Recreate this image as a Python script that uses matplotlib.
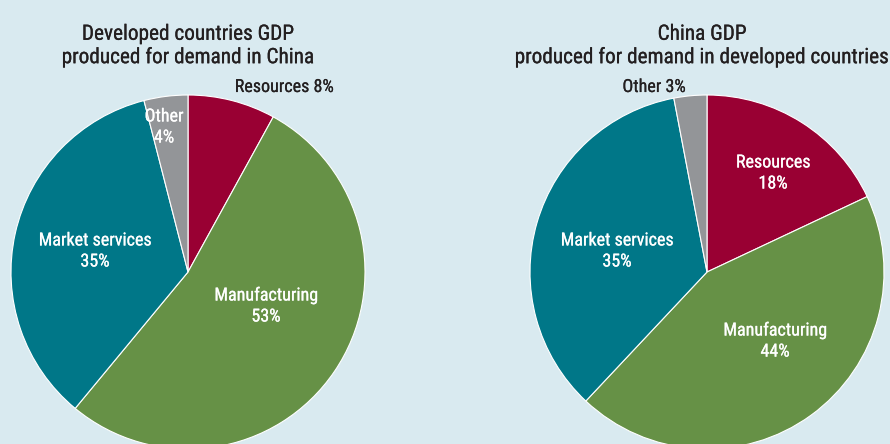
import matplotlib
matplotlib.use("Agg")
import matplotlib.pyplot as plt
from matplotlib import font_manager
from matplotlib import patheffects as pe
import os

# ---- data ----
categories = ["Resources", "Manufacturing", "Market services", "Other"]
left_values = [8, 53, 35, 4]
right_values = [18, 44, 35, 3]
left_title = "Developed countries GDP\nproduced for demand in China"
right_title = "China GDP\nproduced for demand in developed countries"

colors = ["#990033", "#669146", "#007788", "#939598"]
bg = "#d9eaf0"


def pick_font():
    files = [f.fname for f in font_manager.fontManager.ttflist]
    prefs = ["RobotoCondensed-Regular", "Roboto_Condensed-Regular", "LiberationSansNarrow-Regular",
             "DejaVuSansCondensed.ttf"]
    for p in prefs:
        for f in files:
            if p.lower() in os.path.basename(f).lower():
                return f
    for f in files:
        b = os.path.basename(f).lower()
        if ("condensed" in b or "narrow" in b) and "bold" not in b and "italic" not in b \
                and "oblique" not in b and "medium" not in b and "light" not in b:
            return f
    return None


ff = pick_font()
if ff:
    fp = font_manager.FontProperties(fname=ff)
else:
    fp = font_manager.FontProperties(family="DejaVu Sans")

W, H = 890, 444
fig = plt.figure(figsize=(W / 100, H / 100), dpi=100, facecolor=bg)

R = 177


def make_ax(cx, cy):
    ax = fig.add_axes([(cx - R) / W, (H - cy - R) / H, 2 * R / W, 2 * R / H])
    ax.set_facecolor("none")
    ax.axis("off")
    return ax


def pos(cx, cy, x, y):
    return ((x - cx) / R, (cy - y) / R)


def draw(ax, values):
    ax.pie(values, colors=colors, startangle=90, counterclock=False, radius=1,
           wedgeprops=dict(edgecolor="white", linewidth=0.8))
    ax.set_xlim(-1, 1)
    ax.set_ylim(-1, 1)
    ax.set_aspect("auto")


def fpsize(size):
    p = fp.copy()
    p.set_size(size)
    return p


LS = 13
white_kw = dict(ha="center", va="center", linespacing=1.22, color="white",
                path_effects=[pe.withStroke(linewidth=0.15, foreground="white")])
dark_kw = dict(ha="center", va="center", color="#231f20",
               path_effects=[pe.withStroke(linewidth=0.12, foreground="#231f20")])

# left pie
cxL, cyL = 188, 272
axL = make_ax(cxL, cyL)
draw(axL, left_values)
axL.text(*pos(cxL, cyL, 284, 87), f"{categories[0]} {left_values[0]}%",
         fontproperties=fpsize(LS), **dark_kw)
axL.text(*pos(cxL, cyL, 95, 251), f"{categories[2]}\n{left_values[2]}%",
         fontproperties=fpsize(LS), **white_kw)
axL.text(*pos(cxL, cyL, 266, 306), f"{categories[1]}\n{left_values[1]}%",
         fontproperties=fpsize(LS), **white_kw)
axL.text(*pos(cxL, cyL, 164, 127), f"{categories[3]}\n{left_values[3]}%",
         fontproperties=fpsize(LS), **white_kw)

# right pie
cxR, cyR = 707, 272
axR = make_ax(cxR, cyR)
draw(axR, right_values)
axR.text(*pos(cxR, cyR, 654, 87), f"{categories[3]} {right_values[3]}%",
         fontproperties=fpsize(LS), **dark_kw)
axR.text(*pos(cxR, cyR, 773, 173), f"{categories[0]}\n{right_values[0]}%",
         fontproperties=fpsize(LS), **white_kw)
axR.text(*pos(cxR, cyR, 617, 251), f"{categories[2]}\n{right_values[2]}%",
         fontproperties=fpsize(LS), **white_kw)
axR.text(*pos(cxR, cyR, 775, 341), f"{categories[1]}\n{right_values[1]}%",
         fontproperties=fpsize(LS), **white_kw)

# titles
title_kw = dict(ha="center", va="center", color="#231f20", linespacing=1.25,
                path_effects=[pe.withStroke(linewidth=0.15, foreground="#231f20")])
fig.text(188 / W, 1 - 46 / H, left_title, fontproperties=fpsize(15.3), **title_kw)
fig.text(702 / W, 1 - 46 / H, right_title, fontproperties=fpsize(15.3), **title_kw)

fig.savefig("out.png", dpi=100, facecolor=bg)
